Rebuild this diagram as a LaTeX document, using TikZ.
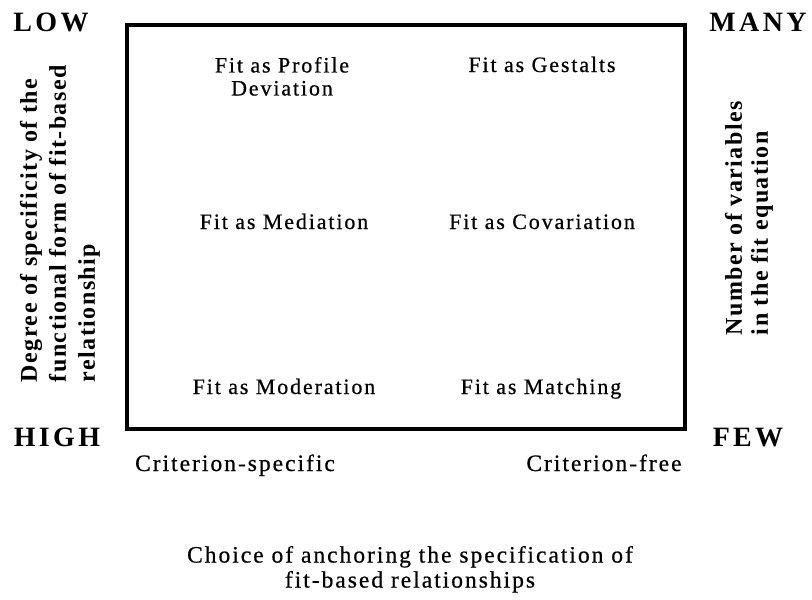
\documentclass[tikz,border=0pt]{standalone}
\usepackage{fontspec}
\setmainfont{Liberation Serif}
% letter-spaced faces for the different label classes
\newfontfamily\quadfont[LetterSpace=8.5,FakeBold=0.6]{Liberation Serif}
\newfontfamily\endfont[LetterSpace=8.5,FakeBold=0.6]{Liberation Serif}
\newfontfamily\axisfont[LetterSpace=6]{Liberation Serif}
\newfontfamily\cornerfont[LetterSpace=12]{Liberation Serif}
\begin{document}
\begin{tikzpicture}[x=1pt,y=-1pt,
  every node/.style={inner sep=0pt, outer sep=0pt, text=black},
  quad/.style={anchor=base, align=center, font=\quadfont\fontsize{22}{23}\selectfont},
  corner/.style={anchor=base, font=\cornerfont\bfseries\fontsize{28}{30}\selectfont},
  endlabel/.style={anchor=base, font=\endfont\fontsize{23.5}{25}\selectfont},
  axislabel/.style={rotate=90, anchor=north west, align=left, font=\axisfont\bfseries\fontsize{24}{29}\selectfont},
  framebox/.style={draw=black, line width=3.5pt, minimum width=558pt, minimum height=404pt}]
\useasboundingbox (0,0) rectangle (812,600);

% the matrix frame
\node[framebox] (frame) at (406,227) {};

% the six forms of fit
\node[quad, anchor=north] (profile) at (282,57) {Fit as Profile\\Deviation};
\node[quad] (gestalts) at (542,72) {Fit as Gestalts};
\node[quad] (mediation) at (284,229) {Fit as Mediation};
\node[quad] (covariation) at (542,229) {Fit as Covariation};
\node[quad] (moderation) at (284,394) {Fit as Moderation};
\node[quad] (matching) at (541,394) {Fit as Matching};

% corner labels
\node[corner] (low) at (51,31) {LOW};
\node[corner] (many) at (758,31) {MANY};
\node[corner] (high) at (57,446) {HIGH};
\node[corner] (few) at (748,446) {FEW};

% horizontal axis
\node[endlabel] (specific) at (235,471) {Criterion-specific};
\node[endlabel] (free) at (604,471) {Criterion-free};
\node[endlabel, anchor=north, align=center] (choice) at (410,546)
  {Choice of anchoring the specification of\\fit-based relationships};

% vertical axes
\node[axislabel] (degree) at (20,382)
  {Degree of specificity of the\\functional form of fit-based\\relationship};
\node[axislabel, font=\axisfont\bfseries\fontsize{24}{26}\selectfont] (number) at (725,335)
  {Number of variables\\in the fit equation};
\end{tikzpicture}
\end{document}
